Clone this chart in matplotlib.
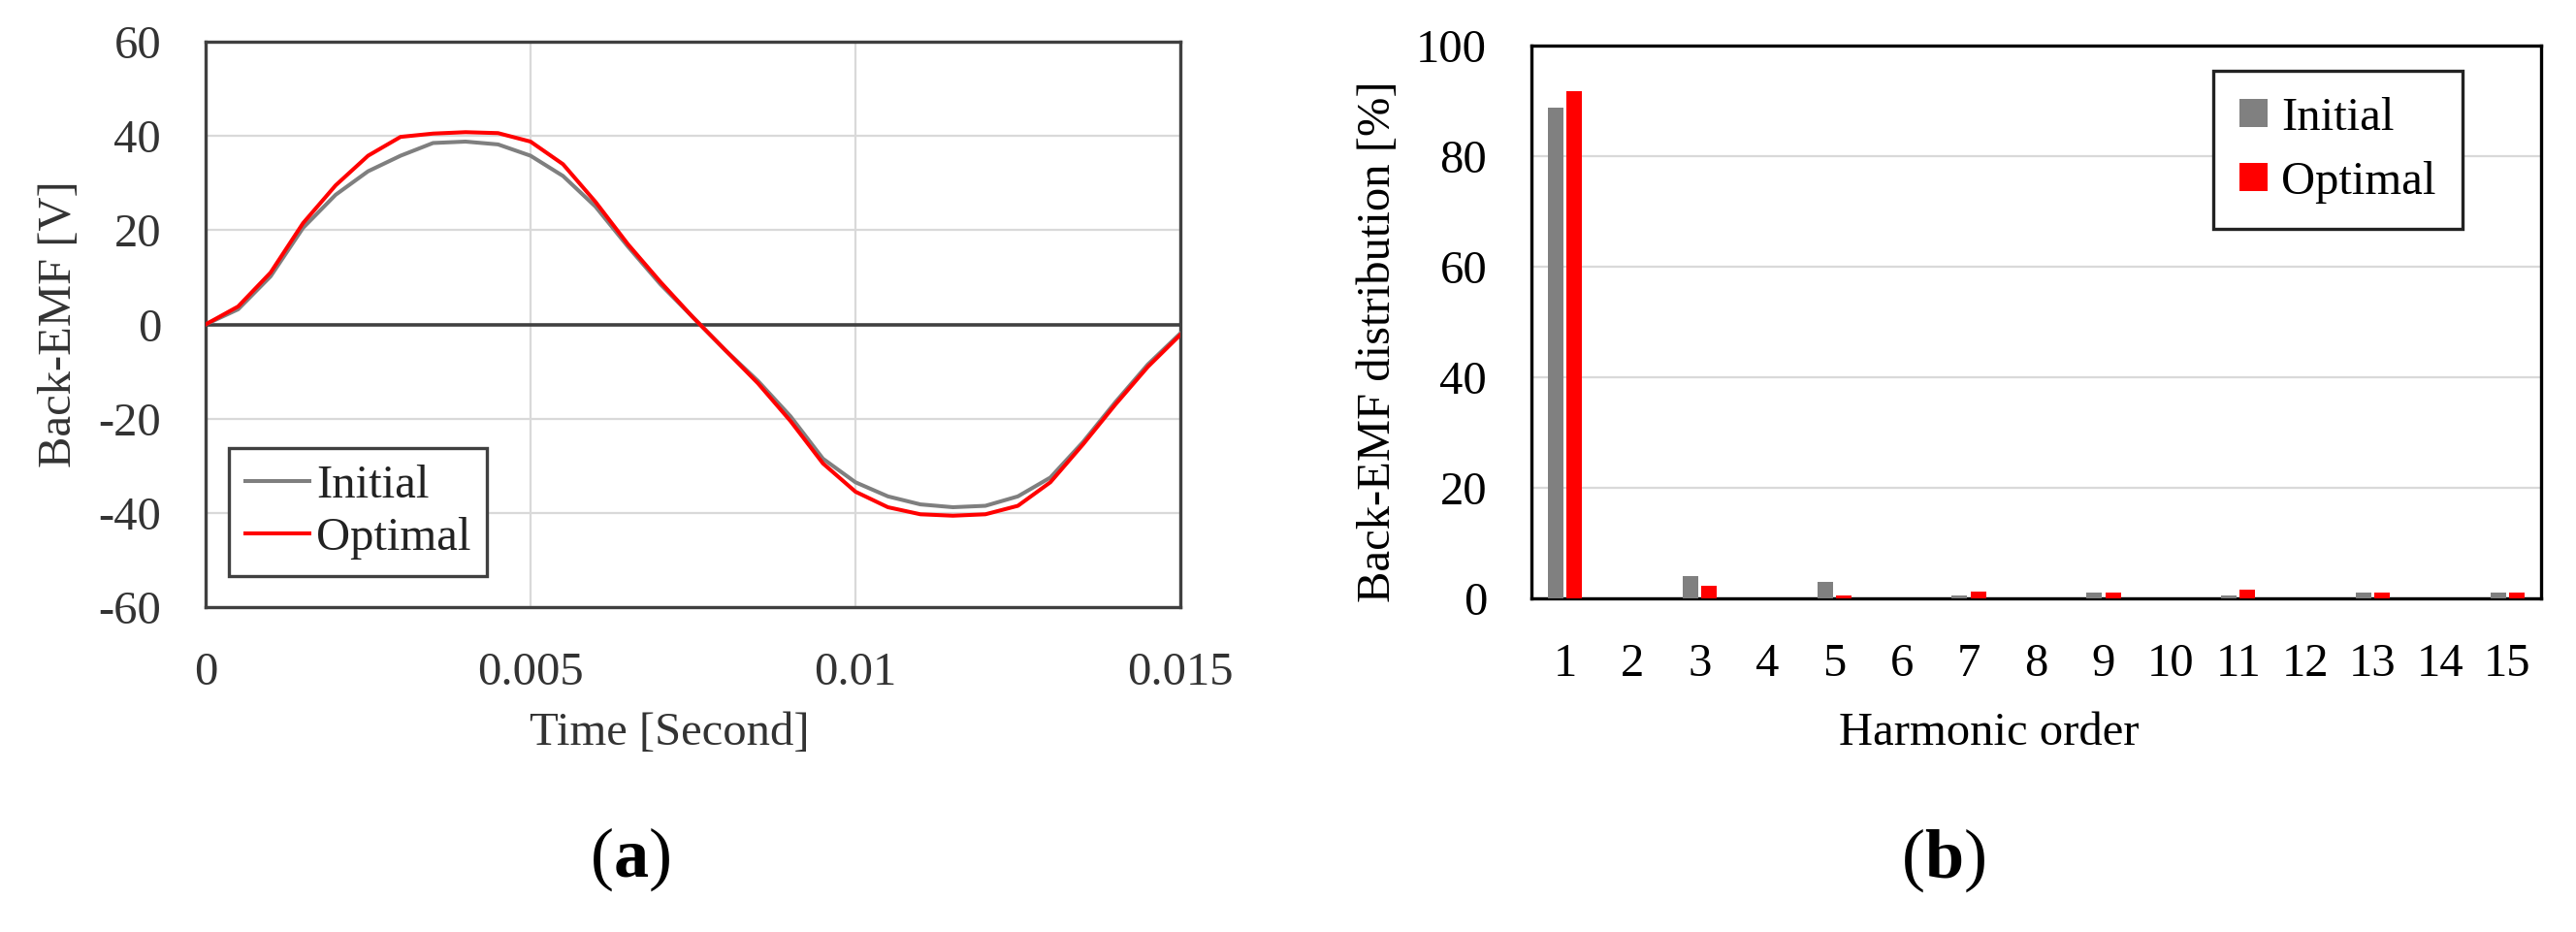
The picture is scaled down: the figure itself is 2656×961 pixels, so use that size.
import numpy as np
import matplotlib
matplotlib.use("Agg")
import matplotlib.pyplot as plt

plt.rcParams["font.family"] = ["Liberation Serif", "DejaVu Serif"]
plt.rcParams["mathtext.fontset"] = "custom"
plt.rcParams["mathtext.bf"] = "Liberation Serif:bold"
plt.rcParams["axes.unicode_minus"] = False

# (a) back-EMF waveform, sampled every 0.5 ms
time_s = np.arange(31) * 0.0005
emf_initial = [0, 3.2, 10.2, 20.5, 27.5, 32.5, 35.8, 38.5, 38.8, 38.2, 35.8,
               31.5, 25, 16.5, 8.5, 1.5, -5.5, -12, -19.5, -28.5, -33.5,
               -36.5, -38.2, -38.8, -38.5, -36.5, -32.5, -25, -16.5, -8.5, -1.9]
emf_optimal = [0, 3.8, 11, 21.5, 29.5, 35.8, 39.8, 40.5, 40.8, 40.6, 38.8,
               34, 26, 17, 9, 1.5, -5.5, -12.5, -20.5, -29.5, -35.5,
               -38.8, -40.3, -40.6, -40.3, -38.5, -33.5, -25.5, -17, -9, -2.2]

# (b) harmonic distribution
harmonics = np.arange(1, 16)
dist_initial = [88.8, 0, 4.1, 0, 3.0, 0, 0.6, 0, 1.0, 0, 0.5, 0, 1.1, 0, 1.1]
dist_optimal = [91.8, 0, 2.3, 0, 0.5, 0, 1.2, 0, 1.0, 0, 1.6, 0, 1.1, 0, 1.1]

W, H = 2656, 961
fig = plt.figure(figsize=(W / 100, H / 100), dpi=100)
FS = 35
GRID = "#d9d9d9"
DARK = "#404040"


def px_axes(x0, y0, x1, y1):
    return fig.add_axes([x0 / W, 1 - y1 / H, (x1 - x0) / W, (y1 - y0) / H])


# ---- panel (a)
ax = px_axes(212, 43, 1217, 626)
ax.plot(time_s, emf_initial, color="#7f7f7f", lw=2.9, label="Initial", zorder=3)
ax.plot(time_s, emf_optimal, color="#ff0000", lw=2.9, label="Optimal", zorder=4)
ax.axhline(0, color=DARK, lw=2.6, zorder=2)
ax.set_xlim(0, 0.015)
ax.set_ylim(-60, 60)
ax.set_xticks([0, 0.005, 0.01, 0.015])
ax.set_xticklabels(["0", "0.005", "0.01", "0.015"])
ax.set_yticks(np.arange(-60, 61, 20))
ax.grid(True, color=GRID, lw=1.6, zorder=0)
ax.set_axisbelow(True)
ax.tick_params(length=0, labelsize=FS, pad=33, colors="#333333")
for s in ax.spines.values():
    s.set_color(DARK)
    s.set_linewidth(2.4)
ax.set_xlabel("Time [Second]", fontsize=FS, color="#333333")
ax.set_ylabel("Back-EMF [V]", fontsize=FS, color="#333333")
ax.xaxis.set_label_coords(0.476, -0.185)
ax.yaxis.set_label_coords(-0.128, 0.5)
leg = ax.legend(loc="upper left", bbox_to_anchor=(236 / W, 1 - 462 / H),
                bbox_transform=fig.transFigure, borderaxespad=0, fontsize=FS,
                fancybox=False, framealpha=1, handlelength=1.35,
                handletextpad=0.15, labelspacing=0.2, borderpad=0.35)
leg.get_frame().set_edgecolor(DARK)
leg.get_frame().set_linewidth(2.4)
for t in leg.get_texts():
    t.set_color("#222222")

# ---- panel (b)
bx = px_axes(1579, 47, 2620, 617)
bx.bar(harmonics - 0.14, dist_initial, width=0.23, color="#808080",
       label="Initial", zorder=3)
bx.bar(harmonics + 0.14, dist_optimal, width=0.23, color="#ff0000",
       label="Optimal", zorder=3)
bx.set_xlim(0.5, 15.5)
bx.set_ylim(0, 100)
bx.set_xticks(harmonics)
bx.set_yticks(np.arange(0, 101, 20))
bx.yaxis.grid(True, color=GRID, lw=1.6, zorder=0)
bx.set_axisbelow(True)
bx.tick_params(length=0, labelsize=FS, pad=33)
for s in bx.spines.values():
    s.set_color("black")
    s.set_linewidth(2.4)
bx.set_xlabel("Harmonic order", fontsize=FS)
bx.set_ylabel("Back-EMF distribution [%]", fontsize=FS)
bx.xaxis.set_label_coords(0.453, -0.205)
bx.yaxis.set_label_coords(-0.131, 0.465)
leg2 = bx.legend(loc="upper left", bbox_to_anchor=(2282 / W, 1 - 73 / H),
                 bbox_transform=fig.transFigure, borderaxespad=0, fontsize=FS,
                 fancybox=False, framealpha=1, handlelength=0.6,
                 handleheight=0.55, handletextpad=0.3, labelspacing=0.45,
                 borderpad=0.55)
leg2.get_frame().set_edgecolor("#222222")
leg2.get_frame().set_linewidth(2.4)

fig.text(650 / W, 1 - 886 / H, r"($\mathbf{a}$)", fontsize=52,
         ha="center", va="center")
fig.text(2004 / W, 1 - 887 / H, r"($\mathbf{b}$)", fontsize=52,
         ha="center", va="center")

fig.savefig("out.png", dpi=100, facecolor="white")
